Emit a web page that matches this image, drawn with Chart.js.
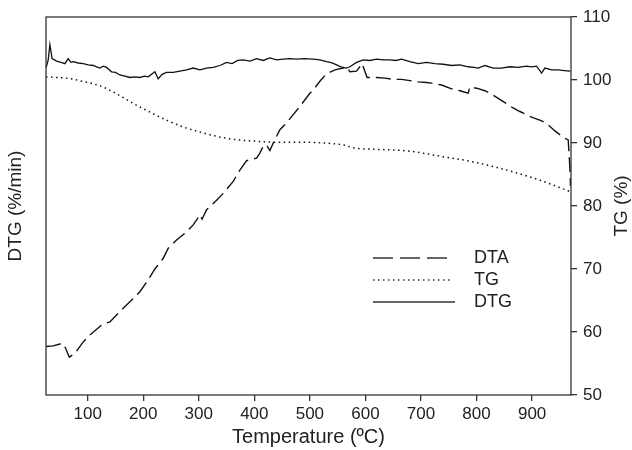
<!DOCTYPE html>
<html>
<head>
<meta charset="utf-8">
<script src="https://cdn.jsdelivr.net/npm/chart.js@4.4.1/dist/chart.umd.min.js"></script>
<style>
  html, body { margin: 0; padding: 0; background: #fff; }
  #wrap { width: 632px; height: 450px; }
</style>
</head>
<body>
<div id="wrap"><canvas id="chart" width="632" height="450"></canvas></div>
<script>
// ---- data ----
const dtaTemp = [25, 38, 50, 57, 67, 77, 90, 101, 113, 128, 140, 152, 170, 182, 194, 209, 221, 236, 245, 260, 278, 290, 297, 302, 306, 314, 332, 344, 362, 374, 386, 404, 410, 416, 422, 428, 434, 446, 458, 470, 482, 500, 506, 518, 530, 545, 560, 567, 572, 584, 594, 603, 620, 635, 650, 665, 680, 695, 710, 719, 737, 755, 770, 785, 788, 800, 815, 830, 851, 865, 878, 899, 915, 926, 940, 956, 965, 968, 969];
const dtaValues = [57.7, 57.8, 58.1, 58.1, 56.0, 56.6, 58.2, 59.3, 60.2, 61.3, 61.6, 62.7, 64.3, 65.3, 66.4, 68.3, 70.0, 71.7, 73.3, 74.6, 75.9, 77.0, 77.9, 78.6, 77.9, 79.4, 80.9, 82.0, 83.9, 85.7, 87.2, 87.6, 88.4, 89.5, 89.7, 88.8, 90.0, 92.1, 93.2, 94.5, 95.8, 97.9, 98.4, 99.8, 101.0, 101.6, 101.9, 102.0, 101.3, 101.4, 102.6, 100.4, 100.4, 100.3, 100.1, 100.1, 99.9, 99.7, 99.6, 99.5, 99.2, 98.6, 98.3, 97.9, 98.9, 98.7, 98.3, 97.6, 96.4, 95.6, 95.0, 94.1, 93.6, 93.1, 92.0, 90.9, 90.5, 86.0, 83.2];

const tgTemp = [25, 45, 70, 90, 110, 130, 150, 170, 190, 210, 240, 270, 300, 330, 360, 400, 450, 500, 540, 560, 580, 620, 680, 734, 794, 854, 914, 968];
const tgValues = [100.5, 100.4, 100.2, 99.8, 99.4, 98.8, 97.9, 96.9, 95.9, 95.0, 93.7, 92.6, 91.8, 91.1, 90.6, 90.3, 90.1, 90.1, 89.9, 89.7, 89.2, 89.0, 88.7, 87.9, 87.0, 85.7, 84.1, 82.3];

const dtgTemp = [25, 29, 32, 36, 44, 52, 59, 65, 70, 74, 83, 92, 101, 110, 116, 122, 128, 134, 143, 150, 158, 167, 176, 185, 194, 202, 209, 215, 221, 227, 234, 242, 254, 266, 278, 290, 302, 314, 326, 338, 350, 360, 370, 380, 392, 404, 416, 428, 440, 452, 464, 476, 490, 506, 518, 530, 540, 548, 556, 565, 572, 584, 596, 608, 620, 632, 644, 655, 665, 680, 695, 710, 725, 740, 755, 770, 785, 795, 803, 815, 830, 845, 860, 875, 890, 899, 908, 913, 917, 923, 935, 947, 958, 969];
const dtgValues = [101.9, 103.2, 105.6, 103.4, 103.0, 102.8, 102.6, 103.4, 102.8, 102.9, 102.7, 102.6, 102.4, 102.3, 102.1, 101.9, 102.2, 102.0, 101.3, 101.2, 100.8, 100.6, 100.4, 100.5, 100.4, 100.6, 100.5, 100.9, 101.3, 100.2, 100.9, 101.2, 101.2, 101.4, 101.6, 101.9, 101.6, 101.9, 102.0, 102.3, 102.8, 102.6, 103.1, 103.2, 103.0, 103.4, 103.1, 103.5, 103.2, 103.3, 103.4, 103.3, 103.4, 103.3, 103.2, 102.9, 102.7, 102.4, 102.1, 101.9, 102.1, 102.8, 103.2, 103.1, 103.3, 103.2, 103.2, 103.1, 103.3, 102.9, 102.6, 102.8, 102.6, 102.5, 102.3, 102.4, 102.1, 102.0, 101.9, 102.3, 101.9, 101.9, 102.1, 102.0, 102.2, 102.1, 102.2, 101.6, 101.1, 101.9, 101.6, 101.6, 101.5, 101.4];

const xTickValues = [100, 200, 300, 400, 500, 600, 700, 800, 900];
const tgTickValues = [50, 60, 70, 80, 90, 100, 110];

const toPoints = (xs, ys) => xs.map((x, i) => ({ x: x, y: ys[i] }));

const FONT = "'Liberation Sans', Arial, sans-serif";
const INK = '#222';

// frame, right-hand title and the legend drawn inside the plot
const extras = {
  id: 'extras',
  afterDraw(chart) {
    const ctx = chart.ctx;
    const a = chart.chartArea;
    ctx.save();
    ctx.strokeStyle = '#333';
    ctx.lineWidth = 1.3;
    ctx.strokeRect(a.left, a.top, a.right - a.left, a.bottom - a.top);

    // TG (%) reads bottom to top
    ctx.fillStyle = INK;
    ctx.font = '19px ' + FONT;
    ctx.textAlign = 'center';
    ctx.textBaseline = 'middle';
    ctx.translate(622, (a.top + a.bottom) / 2);
    ctx.rotate(-Math.PI / 2);
    ctx.fillText('TG (%)', 0, 0);
    ctx.restore();

    ctx.save();
    const rows = [
      { label: 'DTA', dash: [20, 7], width: 1.4, x1: 447, y: 258 },
      { label: 'TG', dash: [1.5, 3.5], width: 1.4, x1: 451, y: 280 },
      { label: 'DTG', dash: [], width: 1.4, x1: 455, y: 302 }
    ];
    ctx.font = '18px ' + FONT;
    ctx.textBaseline = 'middle';
    ctx.textAlign = 'left';
    rows.forEach(r => {
      ctx.strokeStyle = '#333';
      ctx.lineWidth = r.width;
      ctx.setLineDash(r.dash);
      ctx.beginPath();
      ctx.moveTo(373, r.y);
      ctx.lineTo(r.x1, r.y);
      ctx.stroke();
      ctx.fillStyle = INK;
      ctx.fillText(r.label, 474, r.y);
    });
    ctx.restore();
  }
};

new Chart(document.getElementById('chart'), {
  type: 'line',
  data: {
    datasets: [
      {
        label: 'DTA',
        data: toPoints(dtaTemp, dtaValues),
        yAxisID: 'y',
        borderColor: '#111',
        borderWidth: 1.4,
        borderDash: [15, 6],
        pointRadius: 0,
        tension: 0
      },
      {
        label: 'TG',
        data: toPoints(tgTemp, tgValues),
        yAxisID: 'yTG',
        borderColor: '#111',
        borderWidth: 1.5,
        borderDash: [1.5, 3.5],
        pointRadius: 0,
        cubicInterpolationMode: 'monotone'
      },
      {
        label: 'DTG',
        data: toPoints(dtgTemp, dtgValues),
        yAxisID: 'y',
        borderColor: '#111',
        borderWidth: 1.3,
        pointRadius: 0,
        tension: 0
      }
    ]
  },
  options: {
    responsive: false,
    animation: false,
    events: [],
    layout: { padding: { top: 17, left: 0, right: 0, bottom: 0 } },
    plugins: {
      legend: { display: false },
      tooltip: { enabled: false }
    },
    scales: {
      x: {
        type: 'linear',
        position: 'bottom',
        min: 25,
        max: 970,
        afterBuildTicks: s => { s.ticks = xTickValues.map(v => ({ value: v })); },
        afterFit: s => { s.height = 55; },
        border: { display: false },
        grid: { drawOnChartArea: false, drawTicks: true, tickLength: 6, color: '#333', lineWidth: 1.3 },
        ticks: { color: INK, font: { family: FONT, size: 17 }, padding: 3, maxRotation: 0, autoSkip: false },
        title: {
          display: true,
          text: 'Temperature (ºC)',
          color: INK,
          font: { family: FONT, size: 20, lineHeight: 1 },
          padding: { top: 0, bottom: 3 }
        }
      },
      y: {
        type: 'linear',
        position: 'left',
        min: 50,
        max: 110,
        afterFit: s => { s.width = 46; },
        border: { display: false },
        grid: { display: false },
        ticks: { display: false },
        title: {
          display: true,
          text: 'DTG (%/min)',
          color: INK,
          font: { family: FONT, size: 19, lineHeight: 1 },
          padding: { top: 6, bottom: 0 }
        }
      },
      yTG: {
        type: 'linear',
        position: 'right',
        min: 50,
        max: 110,
        afterBuildTicks: s => { s.ticks = tgTickValues.map(v => ({ value: v })); },
        afterFit: s => { s.width = 61; },
        border: { display: false },
        grid: { drawOnChartArea: false, drawTicks: true, tickLength: 6, color: '#333', lineWidth: 1.3 },
        ticks: { color: INK, font: { family: FONT, size: 17 }, padding: 6 }
      }
    }
  },
  plugins: [extras]
});
</script>
</body>
</html>
